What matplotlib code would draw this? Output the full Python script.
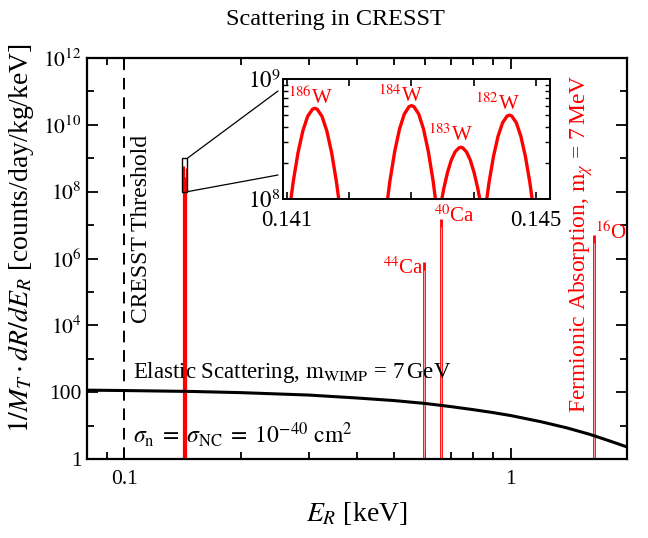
import numpy as np
import matplotlib
matplotlib.use("Agg")
import matplotlib.pyplot as plt
from matplotlib.ticker import FixedLocator, FixedFormatter, NullFormatter
from matplotlib.patches import Rectangle, ConnectionPatch

plt.rcParams['font.family'] = ['Liberation Serif', 'DejaVu Serif']
plt.rcParams['mathtext.fontset'] = 'stix'

# ---------------- data ----------------
# elastic scattering spectrum (m_WIMP = 7 GeV)
el_E = [0.08, 0.1, 0.15, 0.2, 0.3, 0.4, 0.5, 0.6, 0.7, 0.8, 0.9, 1.0, 1.2, 1.4, 1.6, 1.8, 2.0]
el_rate = [115, 112, 105, 97, 82, 67, 56, 46, 37, 30, 24.5, 20, 13, 8.5, 5.5, 3.5, 2.3]

# absorption lines (main panel)
W_E = [0.14145, 0.14300, 0.14379, 0.14457]
W_peak = [5.7e8, 6.0e8, 2.7e8, 5.0e8]
W_names = ['186', '184', '183', '182']
other_E = [0.598, 0.658, 1.645]
other_peak = [7.8e5, 1.5e7, 5.0e6]
other_names = ['44', '40', '16']
other_elem = ['Ca', 'Ca', 'O']

# inset peak profiles
w186_x = [0.141027, 0.141104, 0.141181, 0.141258, 0.141335, 0.141412, 0.14145,
          0.141489, 0.141566, 0.141643, 0.141720, 0.141797, 0.141874]
w186_y = [6.93e7, 1.39e8, 2.43e8, 3.69e8, 4.88e8, 5.60e8, 5.70e8,
          5.60e8, 4.88e8, 3.69e8, 2.43e8, 1.39e8, 6.93e7]
w184_x = [0.142577, 0.142654, 0.142731, 0.142808, 0.142885, 0.142962, 0.14300,
          0.143039, 0.143116, 0.143193, 0.143270, 0.143347, 0.143424]
w184_y = [6.87e7, 1.41e8, 2.49e8, 3.83e8, 5.11e8, 5.89e8, 6.00e8,
          5.89e8, 5.11e8, 3.83e8, 2.49e8, 1.41e8, 6.87e7]
w183_x = [0.143455, 0.143516, 0.143577, 0.143638, 0.143699, 0.143760, 0.14379,
          0.143821, 0.143882, 0.143943, 0.144004, 0.144065, 0.144126]
w183_y = [8.12e7, 1.21e8, 1.66e8, 2.11e8, 2.47e8, 2.67e8, 2.70e8,
          2.67e8, 2.47e8, 2.11e8, 1.66e8, 1.21e8, 8.12e7]
w182_x = [0.144169, 0.144242, 0.144315, 0.144388, 0.144461, 0.144534, 0.14457,
          0.144607, 0.144680, 0.144753, 0.144826, 0.144899, 0.144972]
w182_y = [7.13e7, 1.36e8, 2.27e8, 3.34e8, 4.33e8, 4.92e8, 5.00e8,
          4.92e8, 4.33e8, 3.34e8, 2.27e8, 1.36e8, 7.13e7]

# label positions in inset
W_lab_x = [0.14138, 0.14283, 0.14363, 0.14438]
W_lab_y = [7.0e8, 7.2e8, 3.4e8, 6.2e8]

y_major = [1, 1e2, 1e4, 1e6, 1e8, 1e10, 1e12]
y_major_lab = ['1', '100', r'$10^{4}$', r'$10^{6}$', r'$10^{8}$', r'$10^{10}$', r'$10^{12}$']
y_minor = [1e1, 1e3, 1e5, 1e7, 1e9, 1e11]
x_major = [0.1, 1]
x_major_lab = ['0.1', '1']
x_minor = [0.08, 0.09, 0.2, 0.3, 0.4, 0.5, 0.6, 0.7, 0.8, 0.9, 2.0]

threshold = 0.1
RED = '#ff0000'

# ---------------- figure ----------------
fig = plt.figure(figsize=(6.48, 5.38), dpi=100)
ax = fig.add_axes([0.1343, 0.1468, 0.8333, 0.7454])
ax.set_xscale('log')
ax.set_yscale('log')
ax.set_xlim(0.08, 2.0)
ax.set_ylim(1, 1e12)

# lines
ax.vlines(W_E, 1, W_peak, color=RED, lw=0.9)
ax.vlines(other_E, 1, other_peak, color=RED, lw=2.0)
ax.vlines(other_E, 1, np.array(other_peak) * 0.6, color='white', lw=0.6, alpha=0.75)
ax.plot(el_E, el_rate, color='black', lw=2.2)
ax.axvline(threshold, color='black', lw=1.4, dashes=(6, 4))

# zoom rectangle
rect = Rectangle((0.141, 1e8), 0.145 - 0.141, 1e9 - 1e8, fill=False, ec='black', lw=1.0, zorder=5)
ax.add_patch(rect)

# ticks
ax.tick_params(which='both', direction='in', top=True, right=True)
ax.tick_params(which='major', length=8, width=1.3, labelsize=15.5)
ax.tick_params(axis='y', which='major', pad=4)
ax.tick_params(axis='x', which='major', pad=8)
ax.tick_params(which='minor', length=5, width=1.3)
ax.yaxis.set_major_locator(FixedLocator(y_major))
ax.yaxis.set_major_formatter(FixedFormatter(y_major_lab))
ax.yaxis.set_minor_locator(FixedLocator(y_minor))
ax.yaxis.set_minor_formatter(NullFormatter())
ax.xaxis.set_major_locator(FixedLocator(x_major))
ax.xaxis.set_major_formatter(FixedFormatter(x_major_lab))
ax.xaxis.set_minor_locator(FixedLocator(x_minor))
ax.xaxis.set_minor_formatter(NullFormatter())
for s in ax.spines.values():
    s.set_linewidth(1.6)

ax.set_xlabel(r'$E_R$ [keV]', fontsize=20, labelpad=8)
ax.set_ylabel(r'$1/M_T\cdot dR/dE_R$ [counts/day/kg/keV]', fontsize=20)
ax.yaxis.set_label_coords(-0.095, 0.55)

fig.text(0.517, 0.963, 'Scattering in CRESST', fontsize=17.5, ha='center', va='center')

# texts
ax.text(0.1107, 1.2e4, 'CRESST Threshold', rotation=90, ha='center', va='bottom', fontsize=17)
ax.text(0.1050, 10**2.6, r'Elastic Scattering, $\mathrm{m}_{\mathrm{WIMP}}$ = 7$\,$GeV',
        ha='left', va='center', fontsize=16.5)
ax.text(0.1055, 10**0.72,
        r'$\sigma_{\mathrm{n}}\;=\;\sigma_{\mathrm{NC}}\;=\;10^{-40}\ \mathrm{cm}^2$',
        ha='left', va='center', fontsize=17)
ax.text(1.52, 24, r'Fermionic Absorption, $\mathrm{m}_{\chi}$ = 7$\,$MeV', rotation=90,
        ha='center', va='bottom', fontsize=17, color=RED)
ax.text(0.594, 10**5.72, r'$^{44}$Ca', ha='right', va='center', fontsize=15, color=RED)
ax.text(0.632, 10**7.27, r'$^{40}$Ca', ha='left', va='center', fontsize=15, color=RED)
ax.text(1.650, 10**6.76, r'$^{16}$O', ha='left', va='center', fontsize=15, color=RED)

# ---------------- inset ----------------
axin = fig.add_axes([0.4367, 0.6301, 0.4120, 0.2230])
axin.set_yscale('log')
axin.set_xlim(0.14094, 0.14522)
axin.set_ylim(1e8, 1e9)
for px, py in ((w186_x, w186_y), (w184_x, w184_y), (w183_x, w183_y), (w182_x, w182_y)):
    axin.plot(px, py, color=RED, lw=2.4, solid_capstyle='butt')
for xl, yl, nm in zip(W_lab_x, W_lab_y, W_names):
    axin.text(xl, yl, r'$^{%s}$W' % nm, color=RED, fontsize=15, ha='center', va='center')
axin.tick_params(which='both', direction='in', top=True, right=True)
axin.tick_params(which='major', length=5, width=1.2, labelsize=16.5)
axin.tick_params(which='minor', length=3.5, width=1.0)
axin.xaxis.set_major_locator(FixedLocator([0.141, 0.142, 0.143, 0.144, 0.145]))
axin.xaxis.set_major_formatter(FixedFormatter(['0.141', '', '', '', '0.145']))
axin.yaxis.set_major_locator(FixedLocator([1e8, 1e9]))
axin.yaxis.set_major_formatter(FixedFormatter([r'$10^{8}$', r'$10^{9}$']))
axin.yaxis.set_minor_locator(FixedLocator([2e8, 3e8, 4e8, 5e8, 6e8, 7e8, 8e8, 9e8]))
axin.yaxis.set_minor_formatter(NullFormatter())
axin.tick_params(axis='y', pad=2)
axin.tick_params(axis='x', pad=8)
for s in axin.spines.values():
    s.set_linewidth(1.4)

# connecting lines
for yA, yB in ((1e9, 10**8.9), (1e8, 10**8.2)):
    con = ConnectionPatch(xyA=(0.1455, yA), coordsA=ax.transData,
                          xyB=(0.14086, yB), coordsB=axin.transData,
                          color='black', lw=0.9)
    fig.add_artist(con)

fig.savefig('out.png', dpi=100)
